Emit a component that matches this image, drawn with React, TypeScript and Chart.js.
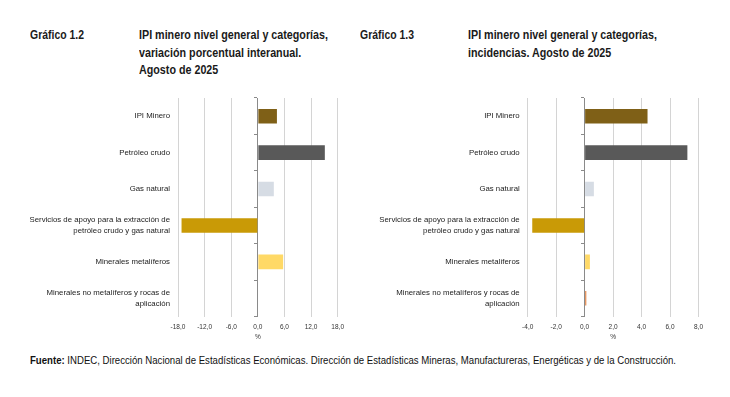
import React, { useEffect, useLayoutEffect, useRef } from "react";
import { Chart, registerables } from "chart.js";

Chart.register(...registerables);

const categories: (string | string[])[] = [
  "IPI Minero",
  "Petróleo crudo",
  "Gas natural",
  ["Servicios de apoyo para la extracción de", "petróleo crudo y gas natural"],
  "Minerales metalíferos",
  ["Minerales no metalíferos y rocas de", "aplicación"],
];
const variacion = [4.3, 15.1, 3.6, -17.2, 5.7, 0.0];
const incidencia = [4.42, 7.22, 0.65, -3.68, 0.37, 0.12];
const barColors = ["#7F6017", "#595959", "#D6DCE4", "#C99A06", "#FFD966", "#E38A4E"];

const leftRange = { min: -18, max: 18, step: 6 };
const rightRange = { min: -4, max: 8, step: 2 };

const FONT = "'Liberation Sans', Arial, sans-serif";

function fmt(v: number) {
  return v.toFixed(1).replace(".", ",");
}

function BarChart(props: {
  values: number[];
  range: { min: number; max: number; step: number };
  yWidth: number;
  padRight: number;
  width: number;
}) {
  const ref = useRef<HTMLCanvasElement>(null);
  useEffect(() => {
    const { values, range, yWidth, padRight } = props;
    const chart = new Chart(ref.current!, {
      type: "bar",
      data: {
        labels: categories,
        datasets: [
          {
            data: values,
            backgroundColor: barColors,
            borderWidth: 0,
            barPercentage: 0.4,
            categoryPercentage: 1,
          },
        ],
      },
      options: {
        indexAxis: "y",
        animation: false,
        responsive: false,
        maintainAspectRatio: false,
        layout: { padding: { top: 8, right: padRight, left: 0, bottom: 0 } },
        plugins: { legend: { display: false }, tooltip: { enabled: false } },
        scales: {
          x: {
            type: "linear",
            min: range.min,
            max: range.max,
            afterBuildTicks: (s: any) => {
              const t = [];
              for (let v = range.min; v <= range.max + 1e-9; v += range.step) t.push({ value: v });
              s.ticks = t;
            },
            afterFit: (s: any) => {
              s.height = 33.5;
            },
            grid: {
              drawTicks: false,
              color: (ctx: any) => (ctx.tick && ctx.tick.value === 0 ? "#8a8a8a" : "#d4d4d4"),
              lineWidth: 1,
            },
            border: { display: false },
            ticks: {
              padding: 7,
              color: "#333",
              font: { family: FONT, size: 6.5 },
              callback: (v: any) => fmt(Number(v)),
            },
            title: {
              display: true,
              text: "%",
              color: "#333",
              font: { family: FONT, size: 6.5 },
              padding: { top: 0, bottom: 9 },
            },
          },
          y: {
            type: "category",
            afterFit: (s: any) => {
              s.width = yWidth;
              s.paddingTop = 0;
              s.paddingBottom = 0;
            },
            grid: { display: false, drawTicks: false },
            border: { display: false },
            ticks: {
              padding: 8,
              color: "#222",
              font: { family: FONT, size: 7.8, lineHeight: 1.4 },
            },
          },
          y2: {
            type: "category",
            labels: categories as any,
            position: { x: 0 } as any,
            offset: true,
            afterFit: (s: any) => {
              s.paddingTop = 0;
              s.paddingBottom = 0;
            },
            grid: {
              offset: true,
              drawOnChartArea: false,
              drawTicks: true,
              tickLength: 3,
              color: "#8a8a8a",
            },
            border: { display: true, color: "#8a8a8a" },
            ticks: { display: false },
          },
        },
      } as any,
    });
    return () => chart.destroy();
  }, []);
  return <canvas ref={ref} width={props.width} height={260} style={{ display: "block", width: props.width, height: 260 }} />;
}

function FitText(props: { left: number; top: number; target: number; style: React.CSSProperties; children: React.ReactNode }) {
  const ref = useRef<HTMLDivElement>(null);
  useLayoutEffect(() => {
    const el = ref.current!;
    el.style.transform = "none";
    const w = el.getBoundingClientRect().width;
    el.style.transform = `scaleX(${props.target / w})`;
  }, []);
  return (
    <div
      ref={ref}
      style={{
        position: "absolute",
        left: props.left,
        top: props.top,
        whiteSpace: "nowrap",
        transformOrigin: "0 0",
        ...props.style,
      }}
    >
      {props.children}
    </div>
  );
}

const titleStyle: React.CSSProperties = {
  fontFamily: FONT,
  fontWeight: "bold",
  fontSize: 13.5,
  lineHeight: "17.5px",
  color: "#1a1a1a",
};

export default function App() {
  return (
    <div style={{ position: "absolute", left: 0, top: 0, width: 730, height: 397, background: "#fff", overflow: "hidden" }}>
      <FitText left={30} top={26} target={54} style={titleStyle}>
        Gráfico 1.2
      </FitText>
      <FitText left={139} top={26} target={189} style={titleStyle}>
        <div>IPI minero nivel general y categorías,</div>
        <div>variación porcentual interanual.</div>
        <div>Agosto de 2025</div>
      </FitText>
      <FitText left={360} top={26} target={54} style={titleStyle}>
        Gráfico 1.3
      </FitText>
      <FitText left={468} top={26} target={189} style={titleStyle}>
        <div>IPI minero nivel general y categorías,</div>
        <div>incidencias. Agosto de 2025</div>
      </FitText>
      <div style={{ position: "absolute", left: 30, top: 90 }}>
        <BarChart values={variacion} range={leftRange} yWidth={148} padRight={22.3} width={330} />
      </div>
      <div style={{ position: "absolute", left: 370, top: 90 }}>
        <BarChart values={incidencia} range={rightRange} yWidth={157.7} padRight={11} width={340} />
      </div>
      <FitText
        left={30}
        top={354}
        target={646}
        style={{ fontFamily: FONT, fontSize: 10.5, color: "#111" }}
      >
        <b>Fuente:</b> INDEC, Dirección Nacional de Estadísticas Económicas. Dirección de Estadísticas Mineras, Manufactureras, Energéticas y de la Construcción.
      </FitText>
    </div>
  );
}
